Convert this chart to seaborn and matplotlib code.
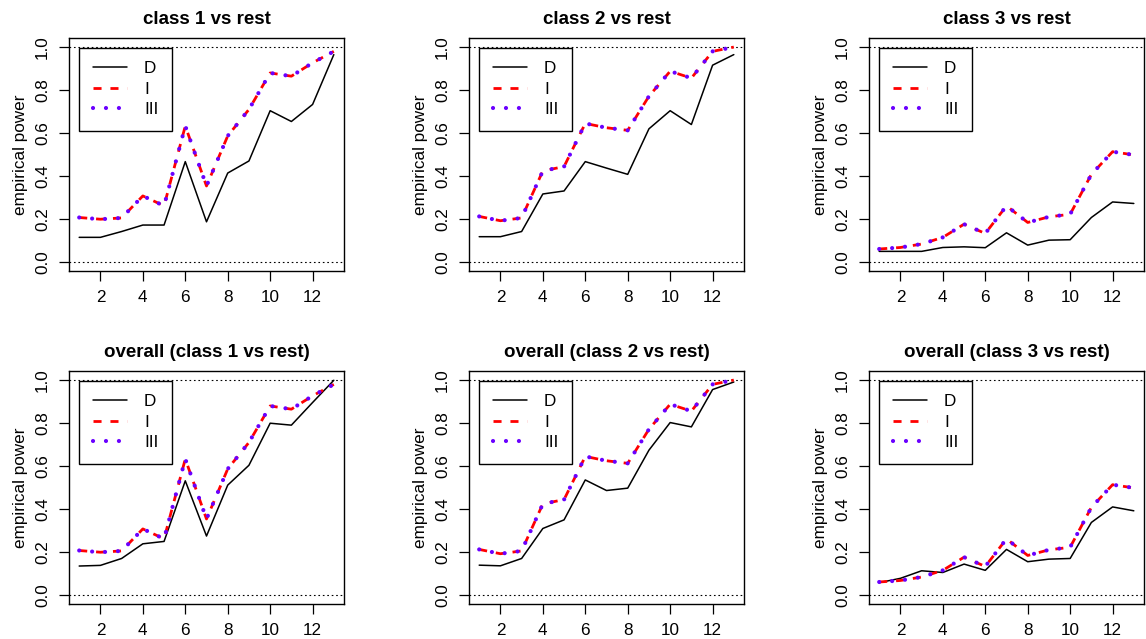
import numpy as np
import pandas as pd
import matplotlib
matplotlib.use("Agg")
import matplotlib.pyplot as plt
import seaborn as sns
from matplotlib.lines import Line2D

sns.set_theme(style="white")
plt.rcParams['font.family'] = ['Liberation Sans', 'DejaVu Sans']
plt.rcParams['text.color'] = 'black'
plt.rcParams['axes.labelcolor'] = 'black'
plt.rcParams['xtick.color'] = 'black'
plt.rcParams['ytick.color'] = 'black'

x_vals = list(range(1, 14))

titles = ["class 1 vs rest", "class 2 vs rest", "class 3 vs rest",
          "overall (class 1 vs rest)", "overall (class 2 vs rest)", "overall (class 3 vs rest)"]

# D series
D_c1 = [0.116, 0.116, 0.143, 0.173, 0.173, 0.467, 0.188, 0.414, 0.470, 0.703, 0.653, 0.732, 0.963]
D_c2 = [0.119, 0.119, 0.143, 0.317, 0.331, 0.467, 0.437, 0.408, 0.619, 0.703, 0.639, 0.914, 0.963]
D_c3 = [0.051, 0.051, 0.051, 0.069, 0.072, 0.068, 0.137, 0.080, 0.103, 0.105, 0.208, 0.280, 0.273]
D_o1 = [0.136, 0.139, 0.171, 0.239, 0.250, 0.531, 0.275, 0.511, 0.603, 0.798, 0.789, 0.894, 0.997]
D_o2 = [0.140, 0.137, 0.171, 0.310, 0.350, 0.535, 0.486, 0.497, 0.673, 0.801, 0.781, 0.954, 0.989]
D_o3 = [0.059, 0.079, 0.114, 0.106, 0.145, 0.116, 0.213, 0.156, 0.168, 0.171, 0.338, 0.410, 0.392]

# I series
I_c1 = [0.208, 0.200, 0.206, 0.308, 0.262, 0.632, 0.354, 0.586, 0.709, 0.878, 0.863, 0.925, 0.978]
I_c2 = [0.213, 0.193, 0.206, 0.424, 0.444, 0.644, 0.624, 0.612, 0.770, 0.886, 0.854, 0.978, 0.998]
I_c3 = [0.062, 0.069, 0.085, 0.116, 0.177, 0.134, 0.262, 0.185, 0.211, 0.223, 0.408, 0.513, 0.498]

# III series (coincides with I)
III_c1 = [0.208, 0.200, 0.206, 0.308, 0.262, 0.632, 0.354, 0.586, 0.709, 0.878, 0.863, 0.925, 0.978]
III_c2 = [0.213, 0.193, 0.206, 0.424, 0.444, 0.644, 0.624, 0.612, 0.770, 0.886, 0.854, 0.978, 0.998]
III_c3 = [0.062, 0.069, 0.085, 0.116, 0.177, 0.134, 0.262, 0.185, 0.211, 0.223, 0.408, 0.513, 0.498]

D_list = [D_c1, D_c2, D_c3, D_o1, D_o2, D_o3]
I_list = [I_c1, I_c2, I_c3, I_c1, I_c2, I_c3]
III_list = [III_c1, III_c2, III_c3, III_c1, III_c2, III_c3]

legend_labels = ["D", "I", "III"]
x_ticks = [2, 4, 6, 8, 10, 12]
y_ticks = [0.0, 0.2, 0.4, 0.6, 0.8, 1.0]

COL_I = "#FF0000"
COL_III = "#6A00FF"

W, H = 1146, 639
fig = plt.figure(figsize=(W / 100, H / 100), dpi=100)

lefts = [69, 469, 869]
tops = [38, 371]
aw, ah = 275, 233

FS = 12.3
for k in range(6):
    r, c = divmod(k, 3)
    ax = fig.add_axes([lefts[c] / W, 1 - (tops[r] + ah) / H, aw / W, ah / H])
    df = pd.DataFrame({"x": x_vals, "D": D_list[k], "I": I_list[k], "III": III_list[k]})
    ax.axhline(0, color="black", lw=0.8, linestyle=(0, (1.5, 2.5)), zorder=1)
    ax.axhline(1, color="black", lw=0.8, linestyle=(0, (1.5, 2.5)), zorder=1)
    sns.lineplot(data=df, x="x", y="D", ax=ax, color="black", lw=1.1, zorder=2)
    sns.lineplot(data=df, x="x", y="I", ax=ax, color=COL_I, lw=2.0, zorder=3)
    sns.lineplot(data=df, x="x", y="III", ax=ax, color=COL_III, lw=3.0, zorder=4)
    lD, lI, lIII = ax.lines[-3], ax.lines[-2], ax.lines[-1]
    lD.set_linestyle("-")
    lI.set_linestyle((0, (2.9, 3.2)))
    lI.set_dash_capstyle("butt")
    lIII.set_linestyle((0, (0.01, 3.1)))
    lIII.set_dash_capstyle("round")

    ax.set_xlim(0.52, 13.48)
    ax.set_ylim(-0.04, 1.04)
    ax.set_xticks(x_ticks)
    ax.set_xticklabels([str(t) for t in x_ticks], fontsize=FS)
    ax.set_yticks(y_ticks)
    ax.set_yticklabels([f"{t:.1f}" for t in y_ticks], fontsize=FS, rotation=90, va="center")
    ax.tick_params(axis="both", direction="out", length=7, width=0.9, color="black",
                   left=True, bottom=True, labelcolor="black")
    ax.tick_params(axis="x", pad=6.5)
    ax.tick_params(axis="y", pad=6.5)
    for s in ax.spines.values():
        s.set_visible(True)
        s.set_color("black")
        s.set_linewidth(1.0)
    ax.set_xlabel("")
    ax.set_ylabel("empirical power", fontsize=FS, labelpad=5, color="black")
    ax.set_title(titles[k], fontsize=13.5, fontweight="bold", pad=10, color="black")
    ax.grid(False)

    hD = Line2D([], [], color="black", lw=1.1)
    hI = Line2D([], [], color=COL_I, lw=2.0, linestyle=(0, (2.9, 3.2)))
    hIII = Line2D([], [], color=COL_III, lw=3.0, linestyle=(0, (0.01, 3.1)), dash_capstyle="round")
    leg = ax.legend([hD, hI, hIII], legend_labels, loc="upper left",
                    bbox_to_anchor=(1, 0.995), bbox_transform=ax.transData,
                    borderaxespad=0, fontsize=FS, handlelength=2.0, handletextpad=1.0,
                    labelspacing=0.32, borderpad=0.8, fancybox=False, frameon=True,
                    framealpha=1, edgecolor="black")
    leg.get_frame().set_linewidth(1.0)
    for t in leg.get_texts():
        t.set_color("black")

fig.savefig("out.png", dpi=100, facecolor="white")
